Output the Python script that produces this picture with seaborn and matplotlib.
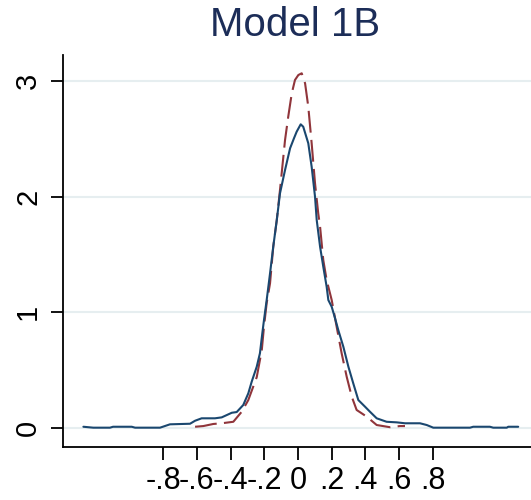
import matplotlib
matplotlib.use("Agg")
import matplotlib.pyplot as plt
import seaborn as sns
import pandas as pd

# Kernel density (solid navy)
kd_x = [-1.274, -1.215, -1.116, -1.098, -0.987, -0.967, -0.819, -0.760, -0.641, -0.611,
        -0.572, -0.493, -0.453, -0.393, -0.364, -0.325, -0.295, -0.275, -0.245, -0.226,
        -0.212, -0.202, -0.186, -0.166, -0.147, -0.126, -0.107, -0.077, -0.047, -0.024,
        -0.008, 0.016, 0.031, 0.061, 0.081, 0.101, 0.111, 0.131, 0.150, 0.170,
        0.180, 0.200, 0.220, 0.239, 0.269, 0.299, 0.328, 0.358, 0.398, 0.427,
        0.467, 0.526, 0.586, 0.635, 0.724, 0.764, 0.803, 1.021, 1.040, 1.139,
        1.159, 1.239, 1.248, 1.307]
kd_y = [0.011, 0.003, 0.003, 0.011, 0.011, 0.003, 0.003, 0.032, 0.037, 0.063,
        0.084, 0.084, 0.092, 0.132, 0.138, 0.199, 0.300, 0.400, 0.530, 0.646,
        0.818, 0.933, 1.106, 1.337, 1.567, 1.798, 2.028, 2.230, 2.418, 2.504,
        2.561, 2.625, 2.604, 2.461, 2.258, 1.999, 1.798, 1.567, 1.394, 1.221,
        1.106, 1.048, 0.948, 0.847, 0.703, 0.530, 0.386, 0.242, 0.184, 0.141,
        0.084, 0.054, 0.049, 0.041, 0.041, 0.026, 0.003, 0.003, 0.011, 0.011,
        0.003, 0.003, 0.011, 0.011]

# Normal density (dashed maroon)
nd_x = [-0.611, -0.562, -0.503, -0.453, -0.384, -0.334, -0.295, -0.245, -0.215, -0.202,
        -0.186, -0.166, -0.147, -0.126, -0.107, -0.077, -0.058, -0.037, -0.018, 0.002,
        0.022, 0.042, 0.061, 0.081, 0.101, 0.120, 0.131, 0.150, 0.170, 0.200,
        0.220, 0.259, 0.289, 0.319, 0.348, 0.408, 0.467, 0.546, 0.605, 0.635]
nd_y = [0.011, 0.017, 0.035, 0.041, 0.054, 0.141, 0.242, 0.440, 0.674, 0.876,
        1.080, 1.251, 1.567, 1.798, 2.057, 2.489, 2.691, 2.893, 3.008, 3.051,
        3.066, 2.979, 2.777, 2.461, 2.115, 1.856, 1.740, 1.452, 1.279, 1.106,
        0.948, 0.646, 0.443, 0.271, 0.156, 0.098, 0.026, 0.007, 0.017, 0.017]

x_ticks = [-0.8, -0.6, -0.4, -0.2, 0, 0.2, 0.4, 0.6, 0.8]
x_tick_labels = ["-.8", "-.6", "-.4", "-.2", "0", ".2", ".4", ".6", ".8"]
y_ticks = [0, 1, 2, 3]
y_tick_labels = ["0", "1", "2", "3"]
title = "Model 1B"

sns.set_theme(style="white")
plt.rcParams["font.family"] = ["Liberation Sans", "DejaVu Sans"]

fig = plt.figure(figsize=(5.31, 5.0), dpi=100)
ax = fig.add_axes([63 / 531, 1 - 447 / 500, 1 - 63 / 531, (447 - 55) / 500])

for yv in y_ticks:
    ax.axhline(yv, color="#e6eef0", lw=1.5, zorder=0)

kd = pd.DataFrame({"x": kd_x, "y": kd_y})
nd = pd.DataFrame({"x": nd_x, "y": nd_y})
sns.lineplot(data=nd, x="x", y="y", sort=False, ax=ax, color="#90353b",
             lw=1.5, linestyle=(0, (10.5, 3.5)), zorder=3)
sns.lineplot(data=kd, x="x", y="y", sort=False, ax=ax, color="#1a476f",
             lw=1.5, zorder=4)

ax.set_xlim(-1.395, 1.383)
ax.set_ylim(-0.164, 3.224)
ax.set_xticks(x_ticks)
ax.set_xticklabels(x_tick_labels)
ax.set_yticks(y_ticks)
ax.set_yticklabels(y_tick_labels, rotation=90, va="center")
ax.set_xlabel("")
ax.set_ylabel("")

for s in ["top", "right"]:
    ax.spines[s].set_visible(False)
for s in ["left", "bottom"]:
    ax.spines[s].set_color("black")
    ax.spines[s].set_linewidth(1.3)

ax.tick_params(axis="both", which="major", length=9, width=1.3, color="black",
               labelsize=21, labelcolor="black", left=True, bottom=True)
ax.tick_params(axis="x", labelsize=22, pad=5)
ax.tick_params(axis="y", pad=6)

fig.text(295 / 531, 1 - 25 / 500, title, ha="center", va="center",
         fontsize=29, color="#1c2d58")

fig.savefig("out.png", dpi=100)
